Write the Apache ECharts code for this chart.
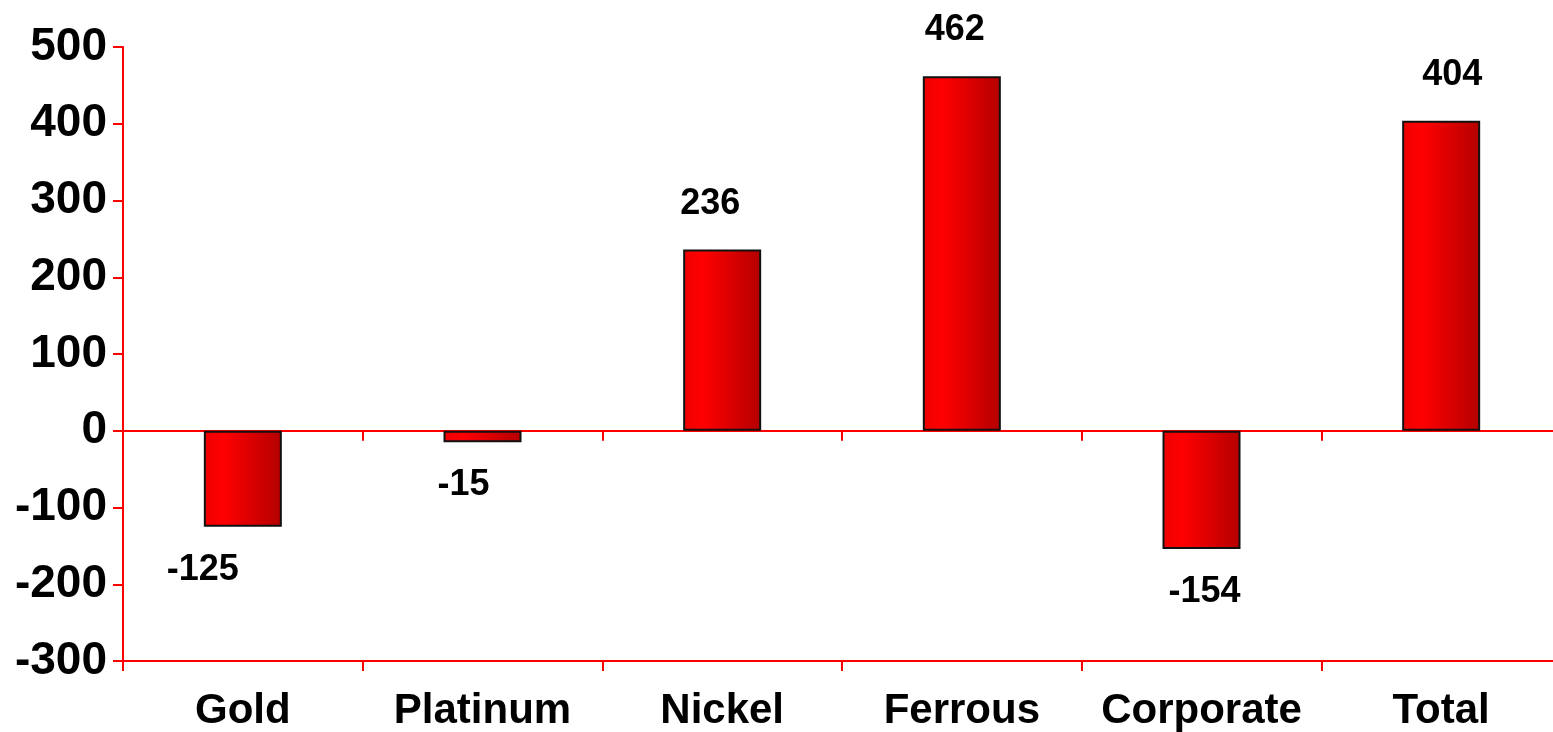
<!DOCTYPE html>
<html>
  <head>
    <meta charset="UTF-8" />
    <title>Segment results</title>
    <style>
      html, body { margin: 0; padding: 0; background: #fff; overflow: hidden; }
      #main { width: 1562px; height: 732px; }
    </style>
  </head>
  <body>
    <div id="main"></div>
  </body>
  <script src="https://cdn.jsdelivr.net/npm/echarts@6/dist/echarts.min.js"></script>
  <script>
    const categories = ['Gold', 'Platinum', 'Nickel', 'Ferrous', 'Corporate', 'Total']
    const values = [-125, -15, 236, 462, -154, 404]
    const yMin = -300
    const yMax = 500
    const yStep = 100

    // value labels were nudged sideways by hand in the original
    const labelShift = [-40, -19, -12, -7, 3, 11]

    const font = '"Liberation Sans", Arial, sans-serif'
    const axisRed = '#ff0000'

    const barFill = new echarts.graphic.LinearGradient(0, 0, 1, 0, [
      { offset: 0, color: '#ee0000' },
      { offset: 0.25, color: '#ff0000' },
      { offset: 1, color: '#b40000' },
    ])

    let barData = values.map((v, i) => ({
      value: v,
      label: {
        position: v >= 0 ? 'top' : 'bottom',
        distance: v >= 0 ? 28 : 25,
        offset: [labelShift[i], 0],
      },
    }))

    let myChart = echarts.init(document.getElementById('main'))
    myChart.setOption({
      animation: false,
      grid: { left: 123, top: 47, height: 616, width: 1438 },
      xAxis: [
        {
          type: 'category',
          data: categories,
          position: 'bottom',
          axisLine: { onZero: false, lineStyle: { color: axisRed, width: 2 } },
          axisTick: { show: true, length: 10, lineStyle: { color: axisRed, width: 2 } },
          axisLabel: {
            interval: 0,
            margin: 29,
            fontSize: 42,
            fontWeight: 'bold',
            fontFamily: font,
            color: '#000',
          },
        },
        {
          type: 'category',
          data: categories,
          position: 'top',
          axisLine: { onZero: true, lineStyle: { color: axisRed, width: 2 } },
          axisTick: { show: true, inside: true, length: 10, lineStyle: { color: axisRed, width: 2 } },
          axisLabel: { show: false },
        },
      ],
      yAxis: {
        type: 'value',
        min: yMin,
        max: yMax,
        interval: yStep,
        axisLine: { show: true, lineStyle: { color: axisRed, width: 2 } },
        axisTick: { show: true, length: 10, lineStyle: { color: axisRed, width: 2 } },
        splitLine: { show: false },
        axisLabel: {
          margin: 16,
          fontSize: 46,
          fontWeight: 'bold',
          fontFamily: font,
          color: '#000',
        },
      },
      series: [
        {
          type: 'bar',
          xAxisIndex: 0,
          data: barData,
          barWidth: 78,
          itemStyle: {
            color: barFill,
            borderColor: '#111',
            borderWidth: 2,
          },
          label: {
            show: true,
            fontSize: 36,
            fontWeight: 'bold',
            fontFamily: font,
            color: '#000',
          },
        },
      ],
    })
  </script>
</html>
